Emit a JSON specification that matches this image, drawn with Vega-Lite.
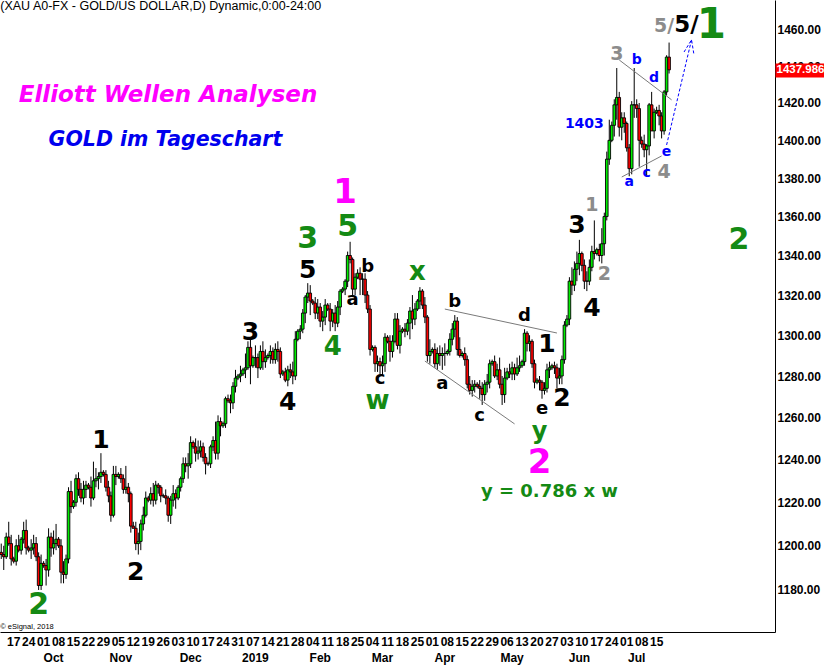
{
"$schema":"https://vega.github.io/schema/vega-lite/v6.json",
"width":775,"height":632,
"autosize":{"type":"none"},
"padding":{"left":0,"top":0,"right":49,"bottom":36},
"background":"white",
"config":{"view":{"stroke":null}},
"datasets":{
"ohlc":[
{"d":"2018-09-10","o":1197,"h":1201,"l":1194,"c":1196},
{"d":"2018-09-11","o":1196,"h":1200,"l":1189,"c":1195},
{"d":"2018-09-12","o":1195,"h":1206,"l":1194,"c":1204},
{"d":"2018-09-13","o":1204,"h":1211,"l":1200,"c":1201},
{"d":"2018-09-14","o":1201,"h":1205,"l":1191,"c":1194},
{"d":"2018-09-16","o":1194,"h":1195,"l":1192,"c":1193},
{"d":"2018-09-17","o":1193,"h":1203,"l":1191,"c":1200},
{"d":"2018-09-18","o":1200,"h":1205,"l":1197,"c":1198},
{"d":"2018-09-19","o":1198,"h":1204,"l":1196,"c":1203},
{"d":"2018-09-20","o":1203,"h":1211,"l":1201,"c":1207},
{"d":"2018-09-21","o":1207,"h":1212,"l":1196,"c":1199},
{"d":"2018-09-23","o":1199,"h":1200,"l":1197,"c":1198},
{"d":"2018-09-24","o":1198,"h":1203,"l":1194,"c":1199},
{"d":"2018-09-25","o":1199,"h":1205,"l":1196,"c":1201},
{"d":"2018-09-26","o":1201,"h":1204,"l":1193,"c":1195},
{"d":"2018-09-27","o":1195,"h":1197,"l":1180,"c":1182},
{"d":"2018-09-28","o":1182,"h":1196,"l":1180,"c":1192},
{"d":"2018-09-30","o":1192,"h":1193,"l":1190,"c":1191},
{"d":"2018-10-01","o":1191,"h":1194,"l":1182,"c":1189},
{"d":"2018-10-02","o":1189,"h":1208,"l":1186,"c":1204},
{"d":"2018-10-03","o":1204,"h":1206,"l":1195,"c":1199},
{"d":"2018-10-04","o":1199,"h":1207,"l":1196,"c":1201},
{"d":"2018-10-05","o":1201,"h":1210,"l":1198,"c":1203},
{"d":"2018-10-07","o":1203,"h":1204,"l":1199,"c":1200},
{"d":"2018-10-08","o":1200,"h":1203,"l":1183,"c":1188},
{"d":"2018-10-09","o":1188,"h":1193,"l":1183,"c":1187},
{"d":"2018-10-10","o":1187,"h":1196,"l":1185,"c":1194},
{"d":"2018-10-11","o":1194,"h":1227,"l":1192,"c":1225},
{"d":"2018-10-12","o":1225,"h":1230,"l":1215,"c":1218},
{"d":"2018-10-14","o":1218,"h":1221,"l":1217,"c":1220},
{"d":"2018-10-15","o":1220,"h":1233,"l":1218,"c":1231},
{"d":"2018-10-16","o":1231,"h":1234,"l":1223,"c":1226},
{"d":"2018-10-17","o":1226,"h":1229,"l":1220,"c":1222},
{"d":"2018-10-18","o":1222,"h":1230,"l":1219,"c":1226},
{"d":"2018-10-19","o":1226,"h":1230,"l":1222,"c":1228},
{"d":"2018-10-21","o":1228,"h":1229,"l":1226,"c":1227},
{"d":"2018-10-22","o":1227,"h":1232,"l":1218,"c":1222},
{"d":"2018-10-23","o":1222,"h":1239,"l":1221,"c":1230},
{"d":"2018-10-24","o":1230,"h":1236,"l":1227,"c":1231},
{"d":"2018-10-25","o":1231,"h":1234,"l":1226,"c":1232},
{"d":"2018-10-26","o":1232,"h":1243,"l":1229,"c":1234},
{"d":"2018-10-28","o":1234,"h":1235,"l":1232,"c":1233},
{"d":"2018-10-29","o":1233,"h":1235,"l":1225,"c":1227},
{"d":"2018-10-30","o":1227,"h":1230,"l":1220,"c":1223},
{"d":"2018-10-31","o":1223,"h":1225,"l":1211,"c":1214},
{"d":"2018-11-01","o":1214,"h":1237,"l":1213,"c":1233},
{"d":"2018-11-02","o":1233,"h":1237,"l":1228,"c":1232},
{"d":"2018-11-04","o":1232,"h":1234,"l":1231,"c":1233},
{"d":"2018-11-05","o":1233,"h":1236,"l":1229,"c":1231},
{"d":"2018-11-06","o":1231,"h":1233,"l":1224,"c":1226},
{"d":"2018-11-07","o":1226,"h":1237,"l":1224,"c":1227},
{"d":"2018-11-08","o":1227,"h":1229,"l":1220,"c":1224},
{"d":"2018-11-09","o":1224,"h":1225,"l":1206,"c":1209},
{"d":"2018-11-11","o":1209,"h":1211,"l":1208,"c":1208},
{"d":"2018-11-12","o":1208,"h":1211,"l":1198,"c":1201},
{"d":"2018-11-13","o":1201,"h":1206,"l":1196,"c":1202},
{"d":"2018-11-14","o":1202,"h":1212,"l":1198,"c":1210},
{"d":"2018-11-15","o":1210,"h":1218,"l":1207,"c":1214},
{"d":"2018-11-16","o":1214,"h":1225,"l":1213,"c":1222},
{"d":"2018-11-18","o":1222,"h":1223,"l":1220,"c":1221},
{"d":"2018-11-19","o":1221,"h":1227,"l":1219,"c":1224},
{"d":"2018-11-20","o":1224,"h":1229,"l":1218,"c":1221},
{"d":"2018-11-21","o":1221,"h":1230,"l":1219,"c":1228},
{"d":"2018-11-22","o":1228,"h":1229,"l":1224,"c":1227},
{"d":"2018-11-23","o":1227,"h":1228,"l":1220,"c":1223},
{"d":"2018-11-25","o":1223,"h":1224,"l":1222,"c":1223},
{"d":"2018-11-26","o":1223,"h":1226,"l":1219,"c":1222},
{"d":"2018-11-27","o":1222,"h":1223,"l":1211,"c":1214},
{"d":"2018-11-28","o":1214,"h":1223,"l":1210,"c":1221},
{"d":"2018-11-29","o":1221,"h":1228,"l":1218,"c":1224},
{"d":"2018-11-30","o":1224,"h":1226,"l":1217,"c":1222},
{"d":"2018-12-02","o":1222,"h":1228,"l":1221,"c":1227},
{"d":"2018-12-03","o":1227,"h":1232,"l":1225,"c":1231},
{"d":"2018-12-04","o":1231,"h":1241,"l":1229,"c":1238},
{"d":"2018-12-05","o":1238,"h":1241,"l":1234,"c":1237},
{"d":"2018-12-06","o":1237,"h":1243,"l":1231,"c":1238},
{"d":"2018-12-07","o":1238,"h":1251,"l":1236,"c":1248},
{"d":"2018-12-09","o":1248,"h":1249,"l":1245,"c":1246},
{"d":"2018-12-10","o":1246,"h":1250,"l":1239,"c":1243},
{"d":"2018-12-11","o":1243,"h":1249,"l":1240,"c":1244},
{"d":"2018-12-12","o":1244,"h":1249,"l":1241,"c":1246},
{"d":"2018-12-13","o":1246,"h":1248,"l":1239,"c":1241},
{"d":"2018-12-14","o":1241,"h":1243,"l":1233,"c":1238},
{"d":"2018-12-16","o":1238,"h":1239,"l":1237,"c":1238},
{"d":"2018-12-17","o":1238,"h":1247,"l":1236,"c":1246},
{"d":"2018-12-18","o":1246,"h":1251,"l":1244,"c":1249},
{"d":"2018-12-19","o":1249,"h":1258,"l":1240,"c":1243},
{"d":"2018-12-20","o":1243,"h":1261,"l":1240,"c":1258},
{"d":"2018-12-21","o":1258,"h":1260,"l":1251,"c":1256},
{"d":"2018-12-23","o":1256,"h":1258,"l":1255,"c":1257},
{"d":"2018-12-24","o":1257,"h":1270,"l":1255,"c":1269},
{"d":"2018-12-25","o":1269,"h":1271,"l":1267,"c":1268},
{"d":"2018-12-26","o":1268,"h":1271,"l":1262,"c":1267},
{"d":"2018-12-27","o":1267,"h":1277,"l":1264,"c":1275},
{"d":"2018-12-28","o":1275,"h":1283,"l":1272,"c":1279},
{"d":"2018-12-30","o":1279,"h":1281,"l":1278,"c":1280},
{"d":"2018-12-31","o":1280,"h":1285,"l":1277,"c":1281},
{"d":"2019-01-01","o":1281,"h":1284,"l":1280,"c":1283},
{"d":"2019-01-02","o":1283,"h":1291,"l":1279,"c":1284},
{"d":"2019-01-03","o":1284,"h":1297,"l":1283,"c":1294},
{"d":"2019-01-04","o":1294,"h":1298,"l":1276,"c":1285},
{"d":"2019-01-06","o":1285,"h":1290,"l":1284,"c":1289},
{"d":"2019-01-07","o":1289,"h":1295,"l":1284,"c":1289},
{"d":"2019-01-08","o":1289,"h":1291,"l":1279,"c":1284},
{"d":"2019-01-09","o":1284,"h":1295,"l":1283,"c":1292},
{"d":"2019-01-10","o":1292,"h":1297,"l":1283,"c":1287},
{"d":"2019-01-11","o":1287,"h":1293,"l":1284,"c":1289},
{"d":"2019-01-13","o":1289,"h":1291,"l":1288,"c":1290},
{"d":"2019-01-14","o":1290,"h":1295,"l":1286,"c":1292},
{"d":"2019-01-15","o":1292,"h":1294,"l":1286,"c":1288},
{"d":"2019-01-16","o":1288,"h":1296,"l":1286,"c":1293},
{"d":"2019-01-17","o":1293,"h":1297,"l":1287,"c":1292},
{"d":"2019-01-18","o":1292,"h":1294,"l":1279,"c":1281},
{"d":"2019-01-20","o":1281,"h":1283,"l":1280,"c":1282},
{"d":"2019-01-21","o":1282,"h":1284,"l":1277,"c":1278},
{"d":"2019-01-22","o":1278,"h":1285,"l":1275,"c":1283},
{"d":"2019-01-23","o":1283,"h":1286,"l":1279,"c":1282},
{"d":"2019-01-24","o":1282,"h":1287,"l":1276,"c":1280},
{"d":"2019-01-25","o":1280,"h":1302,"l":1278,"c":1298},
{"d":"2019-01-27","o":1298,"h":1303,"l":1297,"c":1302},
{"d":"2019-01-28","o":1302,"h":1305,"l":1298,"c":1303},
{"d":"2019-01-29","o":1303,"h":1313,"l":1301,"c":1311},
{"d":"2019-01-30","o":1311,"h":1320,"l":1306,"c":1319},
{"d":"2019-01-31","o":1319,"h":1326,"l":1316,"c":1321},
{"d":"2019-02-01","o":1321,"h":1325,"l":1310,"c":1317},
{"d":"2019-02-03","o":1317,"h":1318,"l":1315,"c":1316},
{"d":"2019-02-04","o":1316,"h":1319,"l":1308,"c":1311},
{"d":"2019-02-05","o":1311,"h":1318,"l":1308,"c":1314},
{"d":"2019-02-06","o":1314,"h":1316,"l":1304,"c":1307},
{"d":"2019-02-07","o":1307,"h":1312,"l":1302,"c":1309},
{"d":"2019-02-08","o":1309,"h":1318,"l":1305,"c":1315},
{"d":"2019-02-10","o":1315,"h":1316,"l":1312,"c":1313},
{"d":"2019-02-11","o":1313,"h":1316,"l":1302,"c":1307},
{"d":"2019-02-12","o":1307,"h":1313,"l":1304,"c":1311},
{"d":"2019-02-13","o":1311,"h":1315,"l":1302,"c":1306},
{"d":"2019-02-14","o":1306,"h":1317,"l":1304,"c":1314},
{"d":"2019-02-15","o":1314,"h":1323,"l":1310,"c":1322},
{"d":"2019-02-17","o":1322,"h":1324,"l":1321,"c":1323},
{"d":"2019-02-18","o":1323,"h":1328,"l":1320,"c":1327},
{"d":"2019-02-19","o":1327,"h":1342,"l":1324,"c":1340},
{"d":"2019-02-20","o":1340,"h":1347,"l":1336,"c":1338},
{"d":"2019-02-21","o":1338,"h":1339,"l":1320,"c":1323},
{"d":"2019-02-22","o":1323,"h":1331,"l":1320,"c":1329},
{"d":"2019-02-24","o":1329,"h":1333,"l":1328,"c":1331},
{"d":"2019-02-25","o":1331,"h":1334,"l":1320,"c":1328},
{"d":"2019-02-26","o":1328,"h":1331,"l":1320,"c":1328},
{"d":"2019-02-27","o":1328,"h":1331,"l":1316,"c":1320},
{"d":"2019-02-28","o":1320,"h":1322,"l":1311,"c":1313},
{"d":"2019-03-01","o":1313,"h":1315,"l":1290,"c":1293},
{"d":"2019-03-03","o":1293,"h":1295,"l":1292,"c":1294},
{"d":"2019-03-04","o":1294,"h":1295,"l":1282,"c":1286},
{"d":"2019-03-05","o":1286,"h":1290,"l":1282,"c":1287},
{"d":"2019-03-06","o":1287,"h":1289,"l":1281,"c":1285},
{"d":"2019-03-07","o":1285,"h":1290,"l":1280,"c":1286},
{"d":"2019-03-08","o":1286,"h":1301,"l":1282,"c":1299},
{"d":"2019-03-10","o":1299,"h":1300,"l":1296,"c":1297},
{"d":"2019-03-11","o":1297,"h":1300,"l":1287,"c":1292},
{"d":"2019-03-12","o":1292,"h":1300,"l":1289,"c":1297},
{"d":"2019-03-13","o":1297,"h":1311,"l":1296,"c":1308},
{"d":"2019-03-14","o":1308,"h":1311,"l":1293,"c":1295},
{"d":"2019-03-15","o":1295,"h":1305,"l":1291,"c":1302},
{"d":"2019-03-17","o":1302,"h":1304,"l":1301,"c":1303},
{"d":"2019-03-18","o":1303,"h":1306,"l":1299,"c":1302},
{"d":"2019-03-19","o":1302,"h":1308,"l":1300,"c":1306},
{"d":"2019-03-20","o":1306,"h":1314,"l":1298,"c":1312},
{"d":"2019-03-21","o":1312,"h":1320,"l":1303,"c":1308},
{"d":"2019-03-22","o":1308,"h":1316,"l":1305,"c":1313},
{"d":"2019-03-24","o":1313,"h":1318,"l":1312,"c":1317},
{"d":"2019-03-25","o":1317,"h":1324,"l":1313,"c":1322},
{"d":"2019-03-26","o":1322,"h":1323,"l":1313,"c":1315},
{"d":"2019-03-27","o":1315,"h":1319,"l":1306,"c":1309},
{"d":"2019-03-28","o":1309,"h":1310,"l":1287,"c":1290},
{"d":"2019-03-29","o":1290,"h":1298,"l":1286,"c":1292},
{"d":"2019-03-31","o":1292,"h":1294,"l":1291,"c":1293},
{"d":"2019-04-01","o":1293,"h":1296,"l":1284,"c":1286},
{"d":"2019-04-02","o":1286,"h":1294,"l":1283,"c":1291},
{"d":"2019-04-03","o":1291,"h":1295,"l":1285,"c":1290},
{"d":"2019-04-04","o":1290,"h":1294,"l":1283,"c":1291},
{"d":"2019-04-05","o":1291,"h":1296,"l":1285,"c":1291},
{"d":"2019-04-07","o":1291,"h":1293,"l":1290,"c":1292},
{"d":"2019-04-08","o":1292,"h":1301,"l":1290,"c":1298},
{"d":"2019-04-09","o":1298,"h":1306,"l":1295,"c":1303},
{"d":"2019-04-10","o":1303,"h":1310,"l":1299,"c":1307},
{"d":"2019-04-11","o":1307,"h":1309,"l":1290,"c":1293},
{"d":"2019-04-12","o":1293,"h":1299,"l":1289,"c":1290},
{"d":"2019-04-14","o":1290,"h":1292,"l":1289,"c":1291},
{"d":"2019-04-15","o":1291,"h":1294,"l":1285,"c":1288},
{"d":"2019-04-16","o":1288,"h":1290,"l":1274,"c":1276},
{"d":"2019-04-17","o":1276,"h":1280,"l":1271,"c":1273},
{"d":"2019-04-18","o":1273,"h":1278,"l":1270,"c":1275},
{"d":"2019-04-19","o":1275,"h":1278,"l":1272,"c":1276},
{"d":"2019-04-21","o":1276,"h":1277,"l":1274,"c":1275},
{"d":"2019-04-22","o":1275,"h":1278,"l":1269,"c":1274},
{"d":"2019-04-23","o":1274,"h":1277,"l":1266,"c":1271},
{"d":"2019-04-24","o":1271,"h":1278,"l":1268,"c":1276},
{"d":"2019-04-25","o":1276,"h":1281,"l":1272,"c":1277},
{"d":"2019-04-26","o":1277,"h":1288,"l":1274,"c":1286},
{"d":"2019-04-28","o":1286,"h":1288,"l":1285,"c":1287},
{"d":"2019-04-29","o":1287,"h":1290,"l":1279,"c":1280},
{"d":"2019-04-30","o":1280,"h":1286,"l":1278,"c":1283},
{"d":"2019-05-01","o":1283,"h":1289,"l":1274,"c":1276},
{"d":"2019-05-02","o":1276,"h":1280,"l":1266,"c":1271},
{"d":"2019-05-03","o":1271,"h":1284,"l":1267,"c":1279},
{"d":"2019-05-05","o":1279,"h":1284,"l":1278,"c":1282},
{"d":"2019-05-06","o":1282,"h":1286,"l":1279,"c":1281},
{"d":"2019-05-07","o":1281,"h":1287,"l":1278,"c":1284},
{"d":"2019-05-08","o":1284,"h":1286,"l":1278,"c":1281},
{"d":"2019-05-09","o":1281,"h":1289,"l":1280,"c":1284},
{"d":"2019-05-10","o":1284,"h":1290,"l":1282,"c":1285},
{"d":"2019-05-12","o":1285,"h":1288,"l":1284,"c":1287},
{"d":"2019-05-13","o":1287,"h":1303,"l":1285,"c":1301},
{"d":"2019-05-14","o":1301,"h":1302,"l":1292,"c":1296},
{"d":"2019-05-15","o":1296,"h":1300,"l":1292,"c":1297},
{"d":"2019-05-16","o":1297,"h":1298,"l":1284,"c":1286},
{"d":"2019-05-17","o":1286,"h":1288,"l":1274,"c":1277},
{"d":"2019-05-19","o":1277,"h":1279,"l":1276,"c":1278},
{"d":"2019-05-20","o":1278,"h":1280,"l":1273,"c":1277},
{"d":"2019-05-21","o":1277,"h":1278,"l":1269,"c":1273},
{"d":"2019-05-22","o":1273,"h":1277,"l":1271,"c":1274},
{"d":"2019-05-23","o":1274,"h":1286,"l":1272,"c":1283},
{"d":"2019-05-24","o":1283,"h":1287,"l":1279,"c":1284},
{"d":"2019-05-26","o":1284,"h":1286,"l":1283,"c":1285},
{"d":"2019-05-27","o":1285,"h":1287,"l":1281,"c":1284},
{"d":"2019-05-28","o":1284,"h":1286,"l":1274,"c":1279},
{"d":"2019-05-29","o":1279,"h":1284,"l":1276,"c":1280},
{"d":"2019-05-30","o":1280,"h":1290,"l":1276,"c":1288},
{"d":"2019-05-31","o":1288,"h":1307,"l":1286,"c":1305},
{"d":"2019-06-02","o":1305,"h":1310,"l":1304,"c":1308},
{"d":"2019-06-03","o":1308,"h":1329,"l":1305,"c":1327},
{"d":"2019-06-04","o":1327,"h":1334,"l":1320,"c":1325},
{"d":"2019-06-05","o":1325,"h":1337,"l":1322,"c":1333},
{"d":"2019-06-06","o":1333,"h":1342,"l":1327,"c":1336},
{"d":"2019-06-07","o":1336,"h":1348,"l":1330,"c":1341},
{"d":"2019-06-09","o":1341,"h":1342,"l":1332,"c":1335},
{"d":"2019-06-10","o":1335,"h":1338,"l":1323,"c":1327},
{"d":"2019-06-11","o":1327,"h":1332,"l":1322,"c":1327},
{"d":"2019-06-12","o":1327,"h":1338,"l":1325,"c":1334},
{"d":"2019-06-13","o":1334,"h":1345,"l":1332,"c":1342},
{"d":"2019-06-14","o":1342,"h":1358,"l":1338,"c":1341},
{"d":"2019-06-16","o":1341,"h":1344,"l":1340,"c":1343},
{"d":"2019-06-17","o":1343,"h":1346,"l":1337,"c":1340},
{"d":"2019-06-18","o":1340,"h":1354,"l":1336,"c":1346},
{"d":"2019-06-19","o":1346,"h":1362,"l":1340,"c":1360},
{"d":"2019-06-20","o":1360,"h":1394,"l":1358,"c":1390},
{"d":"2019-06-21","o":1390,"h":1411,"l":1387,"c":1400},
{"d":"2019-06-23","o":1400,"h":1410,"l":1399,"c":1408},
{"d":"2019-06-24","o":1408,"h":1422,"l":1402,"c":1419},
{"d":"2019-06-25","o":1419,"h":1439,"l":1411,"c":1423},
{"d":"2019-06-26","o":1423,"h":1426,"l":1402,"c":1407},
{"d":"2019-06-27","o":1407,"h":1415,"l":1400,"c":1412},
{"d":"2019-06-28","o":1412,"h":1415,"l":1404,"c":1409},
{"d":"2019-06-30","o":1409,"h":1410,"l":1394,"c":1396},
{"d":"2019-07-01","o":1396,"h":1398,"l":1381,"c":1385},
{"d":"2019-07-02","o":1385,"h":1421,"l":1382,"c":1419},
{"d":"2019-07-03","o":1419,"h":1439,"l":1412,"c":1419},
{"d":"2019-07-04","o":1419,"h":1422,"l":1412,"c":1417},
{"d":"2019-07-05","o":1417,"h":1420,"l":1386,"c":1400},
{"d":"2019-07-07","o":1400,"h":1402,"l":1396,"c":1398},
{"d":"2019-07-08","o":1398,"h":1403,"l":1391,"c":1395},
{"d":"2019-07-09","o":1395,"h":1398,"l":1381,"c":1397},
{"d":"2019-07-10","o":1397,"h":1420,"l":1392,"c":1419},
{"d":"2019-07-11","o":1419,"h":1426,"l":1405,"c":1405},
{"d":"2019-07-12","o":1405,"h":1417,"l":1401,"c":1415},
{"d":"2019-07-14","o":1415,"h":1418,"l":1414,"c":1416},
{"d":"2019-07-15","o":1416,"h":1419,"l":1408,"c":1413},
{"d":"2019-07-16","o":1413,"h":1415,"l":1401,"c":1405},
{"d":"2019-07-17","o":1405,"h":1427,"l":1403,"c":1426},
{"d":"2019-07-18","o":1426,"h":1446,"l":1424,"c":1445},
{"d":"2019-07-19","o":1445,"h":1453,"l":1436,"c":1438}
],
"future":[
{"d":"2019-07-21"},{"d":"2019-07-22"},{"d":"2019-07-23"},{"d":"2019-07-24"},{"d":"2019-07-25"},{"d":"2019-07-26"},
{"d":"2019-07-28"},{"d":"2019-07-29"},{"d":"2019-07-30"},{"d":"2019-07-31"},{"d":"2019-08-01"},{"d":"2019-08-02"},
{"d":"2019-08-04"},{"d":"2019-08-05"},{"d":"2019-08-06"},{"d":"2019-08-07"},{"d":"2019-08-08"},{"d":"2019-08-09"},
{"d":"2019-08-11"},{"d":"2019-08-12"},{"d":"2019-08-13"},{"d":"2019-08-14"},{"d":"2019-08-15"},{"d":"2019-08-16"},
{"d":"2019-08-18"},{"d":"2019-08-19"},{"d":"2019-08-20"},{"d":"2019-08-21"},{"d":"2019-08-22"},{"d":"2019-08-23"},
{"d":"2019-08-25"},{"d":"2019-08-26"},{"d":"2019-08-27"},{"d":"2019-08-28"},{"d":"2019-08-29"},{"d":"2019-08-30"},
{"d":"2019-09-01"},{"d":"2019-09-02"},{"d":"2019-09-03"},{"d":"2019-09-04"},{"d":"2019-09-05"},{"d":"2019-09-06"}
],
"lines":[
{"seg":"L1","k":1,"d":"2019-04-05","p":1313.0},{"seg":"L1","k":2,"d":"2019-05-28","p":1301.1},
{"seg":"L2","k":1,"d":"2019-03-27","p":1287.3},{"seg":"L2","k":2,"d":"2019-05-08","p":1256.9},
{"seg":"L3","k":1,"d":"2019-06-26","p":1443.4},{"seg":"L3","k":2,"d":"2019-07-21","p":1421.7},
{"seg":"L4","k":1,"d":"2019-06-27","p":1380.6},{"seg":"L4","k":2,"d":"2019-07-16","p":1391.7}
],
"arrow":[
{"seg":"shaft","k":1,"d":"2019-07-18","p":1397.5},{"seg":"shaft","k":2,"d":"2019-07-30","p":1454.5},
{"seg":"head","k":1,"d":"2019-07-26","p":1447.8},{"seg":"head","k":2,"d":"2019-07-30","p":1454.5},{"seg":"head","k":3,"d":"2019-07-31","p":1446.2}
],
"t_green30":[{"d":"2018-09-27","p":1173.3,"t":"2"},{"d":"2019-01-31","p":1348.2,"t":"3"},{"d":"2019-02-19","p":1354.6,"t":"5"},{"d":"2019-08-21","p":1347.9,"t":"2"}],
"t_green26":[{"d":"2019-02-12","p":1294.2,"t":"4"},{"d":"2019-03-05","p":1267.9,"t":"w"},{"d":"2019-03-24","p":1331.7,"t":"x"}],
"t_green24":[{"d":"2019-05-20","p":1253.1,"t":"y"}],
"t_green42":[{"d":"2019-08-08","p":1462.5,"t":"1"}],
"t_formula":[{"d":"2019-05-24","p":1224.8,"t":"y = 0.786 x w"}],
"t_magenta":[{"d":"2019-02-18","p":1372.3,"t":"1"},{"d":"2019-05-20","p":1238.4,"t":"2"}],
"t_black25":[
{"d":"2018-10-26","p":1249.3,"t":"1"},{"d":"2018-11-12","p":1188.1,"t":"2"},{"d":"2019-01-04","p":1301.6,"t":"3"},
{"d":"2019-01-22","p":1267.4,"t":"4"},{"d":"2019-01-31","p":1332.4,"t":"5"},{"d":"2019-05-23","p":1295.7,"t":"1"},
{"d":"2019-05-30","p":1269.4,"t":"2"},{"d":"2019-06-06","p":1355.7,"t":"3"},{"d":"2019-06-13","p":1313.5,"t":"4"}],
"t_black23":[{"d":"2019-07-28","p":1462.5,"t":"5/"}],
"t_black19":[
{"d":"2019-02-28","p":1334.2,"t":"b"},{"d":"2019-02-21","p":1317.5,"t":"a"},{"d":"2019-03-06","p":1278.4,"t":"c"},
{"d":"2019-04-10","p":1316.6,"t":"b"},{"d":"2019-05-13","p":1309.6,"t":"d"},{"d":"2019-04-04","p":1276.1,"t":"a"},
{"d":"2019-04-22","p":1260.7,"t":"c"},{"d":"2019-05-21","p":1264.0,"t":"e"}],
"t_gray":[
{"d":"2019-06-13","p":1366.0,"t":"1"},{"d":"2019-06-19","p":1330.6,"t":"2"},{"d":"2019-06-25","p":1446.7,"t":"3"},
{"d":"2019-07-17","p":1383.3,"t":"4"},{"d":"2019-07-17","p":1461.9,"t":"5/"}],
"t_blue":[
{"d":"2019-07-04","p":1443.4,"t":"b"},{"d":"2019-07-12","p":1433.6,"t":"d"},{"d":"2019-07-01","p":1378.0,"t":"a"},
{"d":"2019-07-09","p":1382.7,"t":"c"},{"d":"2019-07-18","p":1393.8,"t":"e"},{"d":"2019-06-10","p":1408.7,"t":"1403"}],
"t_title1":[{"d":"2018-09-18","p":1424.4,"t":"Elliott Wellen Analysen"}],
"t_title2":[{"d":"2018-10-02","p":1400.2,"t":"GOLD im Tageschart"}],
"t_header":[{"d":"2018-09-10","p":1473.4,"t":"(XAU A0-FX - GOLD/US DOLLAR,D) Dynamic,0:00-24:00"}],
"t_copy":[{"d":"2018-09-10","p":1163.5,"t":"© eSignal, 2018"}]
},
"resolve":{"axis":{"x":"independent","y":"independent"}},
"layer":[
{"data":{"name":"future"},"mark":{"type":"rule","opacity":0},
 "encoding":{"x":{"field":"d","type":"ordinal","scale":{"type":"band","paddingInner":0,"paddingOuter":0},
  "axis":{"orient":"bottom","values":["2018-10-04","2018-11-05","2018-12-07","2019-01-07","2019-02-06","2019-03-07","2019-04-05","2019-05-07","2019-06-07","2019-07-04"],
   "labelExpr":"substring(datum.value,5,7)=='01' ? '2019' : ['Jan','Feb','Mar','Apr','May','Jun','Jul','Aug','Sep','Oct','Nov','Dec'][toNumber(substring(datum.value,5,7))-1]",
   "ticks":false,"domain":false,"grid":false,"title":null,"labelAngle":0,"labelAlign":"center","labelBaseline":"top","labelPadding":20,
   "labelFont":"Liberation Sans","labelFontWeight":"bold","labelFontSize":12,"labelColor":"#000000","labelOverlap":false,"labelBound":false,"labelFlush":false}}}},
{"data":{"name":"ohlc"},"mark":{"type":"rule","color":"#000000","strokeWidth":1},
 "encoding":{
  "x":{"field":"d","type":"ordinal","scale":{"type":"band","paddingInner":0,"paddingOuter":0},
   "axis":{"orient":"bottom","values":["2018-09-17","2018-09-24","2018-10-01","2018-10-08","2018-10-15","2018-10-22","2018-10-29","2018-11-05","2018-11-12","2018-11-19","2018-11-26","2018-12-03","2018-12-10","2018-12-17","2018-12-24","2018-12-31","2019-01-07","2019-01-14","2019-01-21","2019-01-28","2019-02-04","2019-02-11","2019-02-18","2019-02-25","2019-03-04","2019-03-11","2019-03-18","2019-03-25","2019-04-01","2019-04-08","2019-04-15","2019-04-22","2019-04-29","2019-05-06","2019-05-13","2019-05-20","2019-05-27","2019-06-03","2019-06-10","2019-06-17","2019-06-24","2019-07-01","2019-07-08","2019-07-15"],
    "labelExpr":"substring(datum.value,8,10)","ticks":false,"domain":true,"domainColor":"#000000","domainWidth":1,"grid":false,"title":null,
    "labelAngle":0,"labelAlign":"center","labelBaseline":"top","labelPadding":4,"labelOffset":-2.5,
    "labelFont":"Liberation Sans","labelFontWeight":"bold","labelFontSize":12,"labelColor":"#000000","labelOverlap":false,"labelBound":false,"labelFlush":false}},
  "y":{"field":"l","type":"quantitative","scale":{"type":"log","domain":[1161.3,1476.7],"nice":false,"zero":false},
   "axis":{"orient":"right","values":[1180,1200,1220,1240,1260,1280,1300,1320,1340,1360,1380,1400,1420,1440,1460],"format":".2f",
    "ticks":false,"domain":true,"domainColor":"#000000","domainWidth":1,"grid":false,"title":null,"labelPadding":2,"zindex":0,
    "labelFont":"Liberation Sans","labelFontWeight":"bold","labelFontSize":12,"labelColor":"#000000","labelOverlap":false,"labelBound":false,"labelFlush":false}},
  "y2":{"field":"h"}}},
{"data":{"name":"ohlc"},"mark":{"type":"bar","width":2.6,"stroke":"#000000","strokeWidth":0.9},
 "encoding":{
  "x":{"field":"d","type":"ordinal","scale":{"type":"band","paddingInner":0,"paddingOuter":0},"axis":null},
  "y":{"field":"o","type":"quantitative","scale":{"type":"log","domain":[1161.3,1476.7],"nice":false,"zero":false},
   "axis":{"orient":"right","values":[1437.986],"labelExpr":"'1437.986'","ticks":true,"tickSize":49,"tickWidth":14,"tickColor":"#ff0000","tickCap":"butt",
    "domain":false,"grid":false,"title":null,"labelPadding":-48,"zindex":1,
    "labelFont":"Liberation Sans","labelFontWeight":"bold","labelFontSize":11.5,"labelColor":"#ffffff","labelOverlap":false,"labelBound":false,"labelFlush":false}},
  "y2":{"field":"c"},
  "fill":{"condition":{"test":"datum.c >= datum.o","value":"#00ee00"},"value":"#ff0000"}}},
{"data":{"name":"lines"},"mark":{"type":"line","color":"#7a7a7a","strokeWidth":1},
 "encoding":{"x":{"field":"d","type":"ordinal","scale":{"type":"band","paddingInner":0,"paddingOuter":0},"axis":null},
  "y":{"field":"p","type":"quantitative","scale":{"type":"log","domain":[1161.3,1476.7],"nice":false,"zero":false},"axis":null},
  "detail":{"field":"seg"},"order":{"field":"k"}}},
{"data":{"name":"arrow"},"mark":{"type":"line","color":"#0000ff","strokeWidth":1,"strokeDash":[3,2]},
 "encoding":{"x":{"field":"d","type":"ordinal","scale":{"type":"band","paddingInner":0,"paddingOuter":0},"axis":null},
  "y":{"field":"p","type":"quantitative","scale":{"type":"log","domain":[1161.3,1476.7],"nice":false,"zero":false},"axis":null},
  "detail":{"field":"seg"},"order":{"field":"k"}}},
{"data":{"name":"t_green30"},"mark":{"type":"text","font":"DejaVu Sans","fontWeight":"bold","fontSize":30,"color":"#148a14","align":"center","baseline":"middle"},
 "encoding":{"x":{"field":"d","type":"ordinal","scale":{"type":"band","paddingInner":0,"paddingOuter":0},"axis":null},
  "y":{"field":"p","type":"quantitative","scale":{"type":"log","domain":[1161.3,1476.7],"nice":false,"zero":false},"axis":null},"text":{"field":"t"}}},
{"data":{"name":"t_green26"},"mark":{"type":"text","font":"DejaVu Sans","fontWeight":"bold","fontSize":26,"color":"#148a14","align":"center","baseline":"middle"},
 "encoding":{"x":{"field":"d","type":"ordinal","scale":{"type":"band","paddingInner":0,"paddingOuter":0},"axis":null},
  "y":{"field":"p","type":"quantitative","scale":{"type":"log","domain":[1161.3,1476.7],"nice":false,"zero":false},"axis":null},"text":{"field":"t"}}},
{"data":{"name":"t_green24"},"mark":{"type":"text","font":"DejaVu Sans","fontWeight":"bold","fontSize":24,"color":"#148a14","align":"center","baseline":"middle"},
 "encoding":{"x":{"field":"d","type":"ordinal","scale":{"type":"band","paddingInner":0,"paddingOuter":0},"axis":null},
  "y":{"field":"p","type":"quantitative","scale":{"type":"log","domain":[1161.3,1476.7],"nice":false,"zero":false},"axis":null},"text":{"field":"t"}}},
{"data":{"name":"t_green42"},"mark":{"type":"text","font":"DejaVu Sans","fontWeight":"bold","fontSize":42,"color":"#148a14","align":"center","baseline":"middle"},
 "encoding":{"x":{"field":"d","type":"ordinal","scale":{"type":"band","paddingInner":0,"paddingOuter":0},"axis":null},
  "y":{"field":"p","type":"quantitative","scale":{"type":"log","domain":[1161.3,1476.7],"nice":false,"zero":false},"axis":null},"text":{"field":"t"}}},
{"data":{"name":"t_formula"},"mark":{"type":"text","font":"DejaVu Sans","fontWeight":"bold","fontSize":18,"color":"#148a14","align":"center","baseline":"middle"},
 "encoding":{"x":{"field":"d","type":"ordinal","scale":{"type":"band","paddingInner":0,"paddingOuter":0},"axis":null},
  "y":{"field":"p","type":"quantitative","scale":{"type":"log","domain":[1161.3,1476.7],"nice":false,"zero":false},"axis":null},"text":{"field":"t"}}},
{"data":{"name":"t_magenta"},"mark":{"type":"text","font":"DejaVu Sans","fontWeight":"bold","fontSize":34,"color":"#ff00ff","align":"center","baseline":"middle"},
 "encoding":{"x":{"field":"d","type":"ordinal","scale":{"type":"band","paddingInner":0,"paddingOuter":0},"axis":null},
  "y":{"field":"p","type":"quantitative","scale":{"type":"log","domain":[1161.3,1476.7],"nice":false,"zero":false},"axis":null},"text":{"field":"t"}}},
{"data":{"name":"t_black25"},"mark":{"type":"text","font":"DejaVu Sans","fontWeight":"bold","fontSize":25,"color":"#000000","align":"center","baseline":"middle"},
 "encoding":{"x":{"field":"d","type":"ordinal","scale":{"type":"band","paddingInner":0,"paddingOuter":0},"axis":null},
  "y":{"field":"p","type":"quantitative","scale":{"type":"log","domain":[1161.3,1476.7],"nice":false,"zero":false},"axis":null},"text":{"field":"t"}}},
{"data":{"name":"t_black23"},"mark":{"type":"text","font":"DejaVu Sans","fontWeight":"bold","fontSize":23,"color":"#000000","align":"center","baseline":"middle"},
 "encoding":{"x":{"field":"d","type":"ordinal","scale":{"type":"band","paddingInner":0,"paddingOuter":0},"axis":null},
  "y":{"field":"p","type":"quantitative","scale":{"type":"log","domain":[1161.3,1476.7],"nice":false,"zero":false},"axis":null},"text":{"field":"t"}}},
{"data":{"name":"t_black19"},"mark":{"type":"text","font":"DejaVu Sans","fontWeight":"bold","fontSize":18,"color":"#000000","align":"center","baseline":"middle"},
 "encoding":{"x":{"field":"d","type":"ordinal","scale":{"type":"band","paddingInner":0,"paddingOuter":0},"axis":null},
  "y":{"field":"p","type":"quantitative","scale":{"type":"log","domain":[1161.3,1476.7],"nice":false,"zero":false},"axis":null},"text":{"field":"t"}}},
{"data":{"name":"t_gray"},"mark":{"type":"text","font":"DejaVu Sans","fontWeight":"bold","fontSize":19,"color":"#8c8c8c","align":"center","baseline":"middle"},
 "encoding":{"x":{"field":"d","type":"ordinal","scale":{"type":"band","paddingInner":0,"paddingOuter":0},"axis":null},
  "y":{"field":"p","type":"quantitative","scale":{"type":"log","domain":[1161.3,1476.7],"nice":false,"zero":false},"axis":null},"text":{"field":"t"}}},
{"data":{"name":"t_blue"},"mark":{"type":"text","font":"DejaVu Sans","fontWeight":"bold","fontSize":14,"color":"#0000ff","align":"center","baseline":"middle"},
 "encoding":{"x":{"field":"d","type":"ordinal","scale":{"type":"band","paddingInner":0,"paddingOuter":0},"axis":null},
  "y":{"field":"p","type":"quantitative","scale":{"type":"log","domain":[1161.3,1476.7],"nice":false,"zero":false},"axis":null},"text":{"field":"t"}}},
{"data":{"name":"t_title1"},"mark":{"type":"text","font":"DejaVu Sans","fontWeight":"bold","fontStyle":"italic","fontSize":23,"color":"#ff00ff","align":"left","baseline":"middle"},
 "encoding":{"x":{"field":"d","type":"ordinal","scale":{"type":"band","paddingInner":0,"paddingOuter":0},"axis":null},
  "y":{"field":"p","type":"quantitative","scale":{"type":"log","domain":[1161.3,1476.7],"nice":false,"zero":false},"axis":null},"text":{"field":"t"}}},
{"data":{"name":"t_title2"},"mark":{"type":"text","font":"DejaVu Sans","fontWeight":"bold","fontStyle":"italic","fontSize":20.5,"color":"#0000ee","align":"left","baseline":"middle"},
 "encoding":{"x":{"field":"d","type":"ordinal","scale":{"type":"band","paddingInner":0,"paddingOuter":0},"axis":null},
  "y":{"field":"p","type":"quantitative","scale":{"type":"log","domain":[1161.3,1476.7],"nice":false,"zero":false},"axis":null},"text":{"field":"t"}}},
{"data":{"name":"t_header"},"mark":{"type":"text","font":"Liberation Sans","fontSize":12.5,"color":"#000000","align":"left","baseline":"middle","dx":-1},
 "encoding":{"x":{"field":"d","type":"ordinal","scale":{"type":"band","paddingInner":0,"paddingOuter":0},"axis":null},
  "y":{"field":"p","type":"quantitative","scale":{"type":"log","domain":[1161.3,1476.7],"nice":false,"zero":false},"axis":null},"text":{"field":"t"}}},
{"data":{"name":"t_copy"},"mark":{"type":"text","font":"Liberation Sans","fontSize":7.5,"color":"#000000","align":"left","baseline":"middle","dx":-1},
 "encoding":{"x":{"field":"d","type":"ordinal","scale":{"type":"band","paddingInner":0,"paddingOuter":0},"axis":null},
  "y":{"field":"p","type":"quantitative","scale":{"type":"log","domain":[1161.3,1476.7],"nice":false,"zero":false},"axis":null},"text":{"field":"t"}}}
]
}
